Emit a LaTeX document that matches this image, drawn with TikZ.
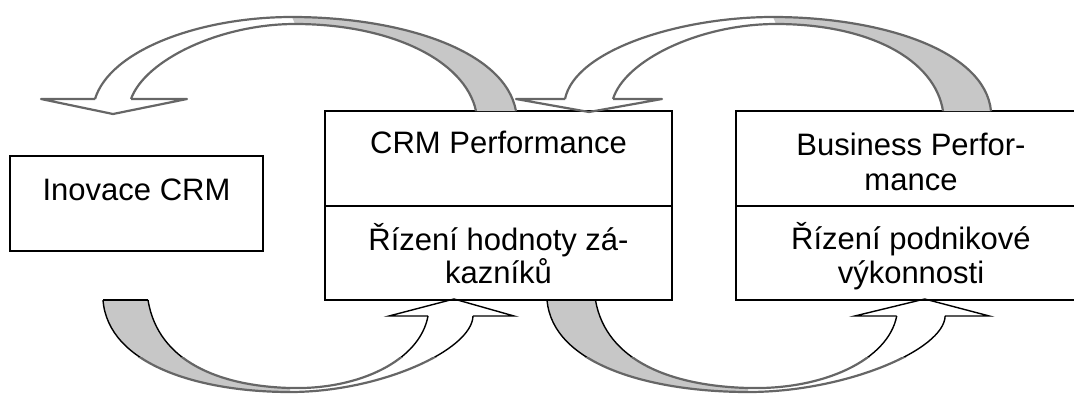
\documentclass[tikz,border=0pt]{standalone}
\usepackage{fontspec}
\setmainfont{Liberation Sans}
\tikzset
{
    box/.style      = {rectangle, draw=black, line width=2.5pt, inner sep=0pt},
    boxtext/.style  = {font=\fontsize{31}{34}\selectfont, anchor=base, inner sep=0pt},
    sketch/.style   = {draw=black!60, line width=2.2pt, line join=round},
    solidedge/.style = {draw=black, line width=1.4pt},
    backface/.style = {fill=black!22}
}
% curved arrow under the boxes, drawn for the left pair
\newcommand{\bottomarrow}{
    \fill[backface] (103,300) .. controls (108,365) and (200,392) .. (290,392)
        -- (290,388) .. controls (220,386) and (158,362) .. (148,300) -- cycle;
    \begin{scope}
        \clip (0,290) rectangle (600,357);
        \draw[solidedge] (103,300) .. controls (108,365) and (200,392) .. (290,392)
            .. controls (380,392) and (472,350) .. (473,316);
        \draw[solidedge] (148,300) .. controls (158,362) and (220,386) .. (290,388)
            .. controls (360,390) and (420,360) .. (428,316);
    \end{scope}
    \begin{scope}
        \clip (0,357) rectangle (600,400);
        \draw[sketch] (103,300) .. controls (108,365) and (200,392) .. (290,392)
            .. controls (380,392) and (472,350) .. (473,316);
        \draw[sketch] (148,300) .. controls (158,362) and (220,386) .. (290,388)
            .. controls (360,390) and (420,360) .. (428,316);
    \end{scope}
    \draw[solidedge] (103,300) -- (148,300);
    \draw[solidedge, line join=miter] (428,316) -- (389,316) -- (454,299) -- (514,316) -- (473,316);
}

\begin{document}
\begin{tikzpicture}[x=1pt, y=-1pt]
\useasboundingbox (0,0) rectangle (1074,394);

% boxes
\node[box, minimum width=253pt, minimum height=95pt] (inov) at (136.5,203.5) {};
\node[box, minimum width=347pt, minimum height=95pt] (crmtop) at (498.5,158.5) {};
\node[box, minimum width=347pt, minimum height=94pt] (crmbot) at (498.5,253) {};
\node[box, minimum width=350pt, minimum height=95pt] (bustop) at (911,158.5) {};
\node[box, minimum width=350pt, minimum height=94pt] (busbot) at (911,253) {};

% texts
\node[boxtext] (inovtext) at (136.5,200) {Inovace CRM};
\node[boxtext] (crmtext) at (498.5,153) {CRM Performance};
\node[boxtext] (crmvala) at (498.5,250) {Řízení hodnoty zá-};
\node[boxtext] (crmvalb) at (498.5,283) {kazníků};
\node[boxtext] (bustexta) at (911,155) {Business Perfor-};
\node[boxtext] (bustextb) at (911,190) {mance};
\node[boxtext] (busvala) at (911,249) {Řízení podnikové};
\node[boxtext] (busvalb) at (911,283) {výkonnosti};

% top left arrow
\fill[backface] (292,17) .. controls (400,17) and (505,50) .. (516,111)
    -- (476,111) .. controls (465,60) and (390,24) .. (295,24) -- cycle;
\draw[sketch] (95,99) .. controls (110,50) and (200,17) .. (292,17)
    .. controls (400,17) and (505,50) .. (516,111);
\draw[sketch] (131,99) .. controls (145,60) and (220,24) .. (295,24)
    .. controls (390,24) and (465,60) .. (476,111);
\draw[sketch] (95,99) -- (41,99) -- (113,114) -- (187,99) -- (131,99);

% top right arrow
\fill[backface] (773,17) .. controls (880,17) and (985,50) .. (991,111)
    -- (943,111) .. controls (935,60) and (870,24) .. (776,24) -- cycle;
\draw[sketch] (565,99) .. controls (575,50) and (680,17) .. (773,17)
    .. controls (880,17) and (985,50) .. (991,111);
\draw[sketch] (613,99) .. controls (625,60) and (700,24) .. (776,24)
    .. controls (870,24) and (935,60) .. (943,111);
\draw[sketch] (565,99) -- (516,99) -- (589,112) -- (662,99) -- (613,99);

% bottom arrows
\begin{scope}
    \bottomarrow
\end{scope}
\begin{scope}[xshift=436.2pt, xscale=1.076]
    \bottomarrow
\end{scope}
\end{tikzpicture}
\end{document}
